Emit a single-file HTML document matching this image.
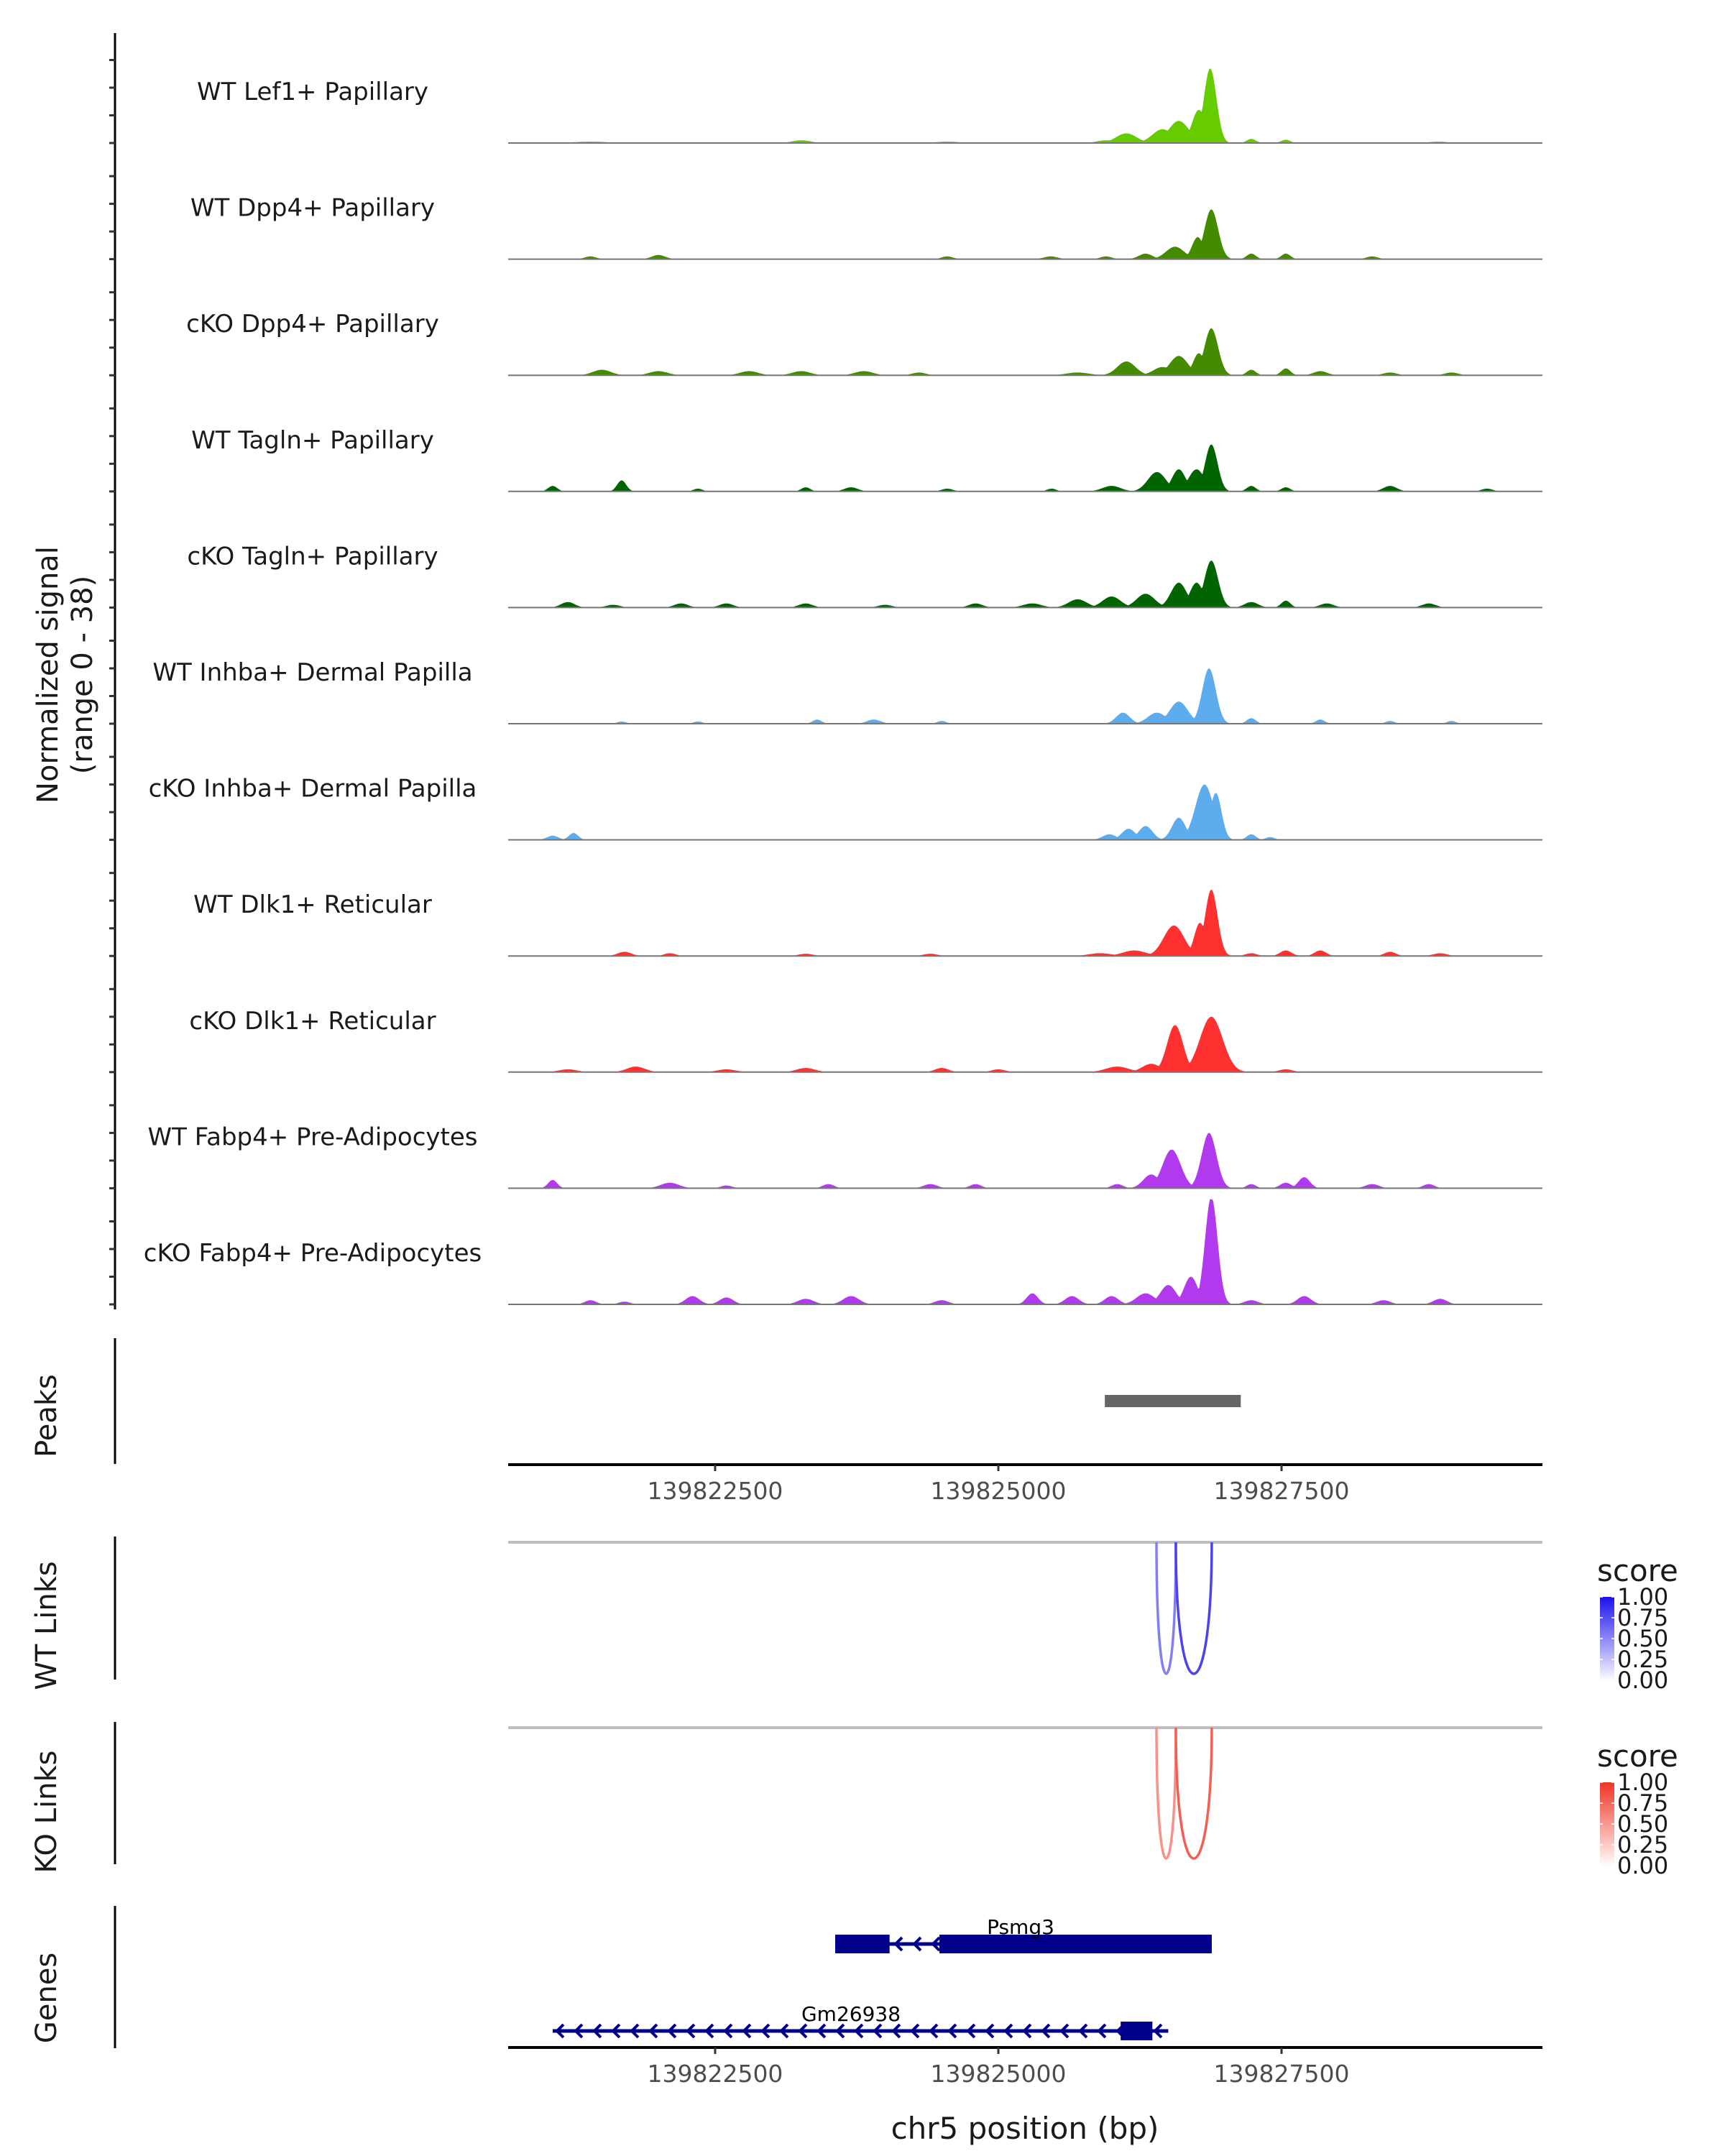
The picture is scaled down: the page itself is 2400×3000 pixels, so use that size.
<!DOCTYPE html>
<html><head><meta charset="utf-8"><style>
html,body{margin:0;padding:0;background:#fff;}
svg{display:block;font-family:"DejaVu Sans","Liberation Sans",sans-serif;}
</style></head><body>
<svg id="fig" width="2400" height="3000" viewBox="0 0 2400 3000">
<g id="tracks"></g>
<g id="peaks"></g>
<g id="links"></g>
<g id="genes"></g>
<g id="labels"></g>
</svg>
<script>
// ---------- data ----------
const xDomain = [139820673, 139829803];
const xTicks = [139822500, 139825000, 139827500];
const yMaxSignal = 38;
const trackNames = ["WT Lef1+ Papillary","WT Dpp4+ Papillary","cKO Dpp4+ Papillary","WT Tagln+ Papillary","cKO Tagln+ Papillary","WT Inhba+ Dermal Papilla","cKO Inhba+ Dermal Papilla","WT Dlk1+ Reticular","cKO Dlk1+ Reticular","WT Fabp4+ Pre-Adipocytes","cKO Fabp4+ Pre-Adipocytes"];
const trackColors = ["#66CC00","#458B00","#458B00","#006400","#006400","#5CACEE","#5CACEE","#FF3030","#FF3030","#B23AEE","#B23AEE"];
// each bump: [position bp, height (signal units), width bp]
const lef1WT = [[139826870,27,55],[139826770,12,60],[139826593,8,90],[139826450,5,90],[139826130,3.5,90],[139825950,1,80],[139823261,1,80],[139827233,1.5,40],[139827538,1.2,40],[139824549,0.5,100],[139821400,0.5,150],[139828883,0.5,80]];
const dpp4WT = [[139826880,18,60],[139826760,8,50],[139826560,4.5,80],[139826300,2,60],[139827233,2,40],[139827538,2,40],[139822000,1.5,60],[139821400,1,50],[139824549,1,50],[139825463,1,60],[139825950,1,50],[139828300,1,50]];
const dpp4KO = [[139826880,17,60],[139826770,8,50],[139826593,7,80],[139826450,3,80],[139826130,5,80],[139825700,1,100],[139821500,2,80],[139822000,1.5,80],[139822800,1.5,80],[139823260,1.5,80],[139823813,1.5,80],[139824300,1,60],[139827233,2,40],[139827538,2.5,40],[139827842,1.5,60],[139828458,1,60],[139829000,1,60]];
const taglnWT = [[139826880,17,55],[139826750,8,70],[139826593,8,60],[139826400,7,80],[139826000,2,80],[139821066,2,40],[139821675,4,40],[139822348,1,40],[139823300,1.5,40],[139823700,1.5,60],[139824549,1,50],[139825470,1,40],[139827233,2,40],[139827538,1.5,40],[139828458,2,60],[139829314,1,50]];
const taglnKO = [[139826880,17,60],[139826750,9,60],[139826593,9,70],[139826300,5,80],[139826000,4,80],[139825700,3,80],[139825300,1.5,80],[139821200,2,60],[139821600,1,60],[139822200,1.5,60],[139822600,1.5,60],[139823300,1.5,60],[139824000,1,60],[139824800,1.5,60],[139827233,2,60],[139827538,2.5,40],[139827900,1.5,60],[139828800,1.5,60]];
const inhbaWT = [[139826860,20,60],[139826593,8,80],[139826400,4,80],[139826100,4,60],[139821675,0.8,40],[139822348,0.8,40],[139823400,1.5,40],[139823900,1.5,60],[139824500,1,40],[139827233,2,40],[139827842,1.5,40],[139828458,1,40],[139829000,1,40]];
const inhbaKO = [[139826820,20,80],[139826920,17,50],[139826593,8,60],[139826300,5,60],[139826150,4,60],[139825980,2,60],[139821066,1.5,50],[139821250,2.5,40],[139827233,2,40],[139827400,1,40]];
const dlk1WT = [[139826880,24,55],[139826780,12,50],[139826550,11,90],[139826200,2,100],[139825900,1,100],[139821700,1.5,60],[139822100,1,50],[139823300,0.8,60],[139824400,0.8,60],[139827233,1,50],[139827538,2,50],[139827842,2,50],[139828458,1.5,50],[139828900,1,60]];
const dlk1KO = [[139826880,20,100],[139826560,17,70],[139826350,3,80],[139826050,2,100],[139821200,1,80],[139821800,2,80],[139822600,1,80],[139823300,1.5,80],[139824500,1.5,60],[139827538,1,60],[139825000,1,60]];
const fabp4WT = [[139826860,20,65],[139826530,14,80],[139826350,5,70],[139826050,1.5,50],[139821066,3,40],[139822100,2,80],[139822600,1,50],[139823500,1.5,50],[139824400,1.5,60],[139824800,1.5,50],[139827233,1.5,40],[139827538,2,50],[139827700,4,50],[139828300,1.5,60],[139828800,1.5,50]];
const fabp4KO = [[139826880,39,55],[139826700,10,60],[139826500,7,70],[139826300,4,80],[139826000,3,60],[139825650,3,60],[139821400,1.5,50],[139821700,1,50],[139822300,3,60],[139822600,2.5,60],[139823300,2,70],[139823700,3,70],[139824500,1.5,60],[139825300,4,50],[139827233,1.5,60],[139827700,3,60],[139828400,1.5,60],[139828900,2,60]];
const trackSignals = [lef1WT,dpp4WT,dpp4KO,taglnWT,taglnKO,inhbaWT,inhbaKO,dlk1WT,dlk1KO,fabp4WT,fabp4KO];
const peakStarts = [139825940];
const peakEnds = [139827140];
const wtLinkStarts = [139826396, 139826567];
const wtLinkEnds = [139826567, 139826884];
const wtLinkScores = [0.55, 0.8];
const koLinkStarts = [139826396, 139826567];
const koLinkEnds = [139826567, 139826884];
const koLinkScores = [0.55, 0.8];
const legendTicks = ["1.00","0.75","0.50","0.25","0.00"];
const geneNames = ["Psmg3","Gm26938"];
const geneStarts = [139823560, 139821066];
const geneEnds = [139826884, 139826500];
const exonStarts = [[139823560,139824480],[139826080]];
const exonEnds = [[139824040,139826884],[139826360]];

// ---------- helpers ----------
const NS="http://www.w3.org/2000/svg";
function mk(tag, attrs, parent){const e=document.createElementNS(NS,tag);for(const k in attrs)e.setAttribute(k,attrs[k]);parent.appendChild(e);return e;}
const PX0=707, PX1=2146;
const xs = v => PX0 + (v - xDomain[0])/(xDomain[1]-xDomain[0])*(PX1-PX0);
const TRACK0=199, TRACKSTEP=161.6, UNIT=3.85;

const gT=document.getElementById('tracks');
let e=mk('line',{x1:160,y1:46,x2:160,y2:1822,stroke:'#000','stroke-width':3},gT);


trackNames.forEach((name,i)=>{
  const base=TRACK0+i*TRACKSTEP;
  const g=mk('g',{},gT);
  
  
  for(let k=0;k<4;k++){
    const ty=base-k*10*UNIT;
    const t=mk('line',{x1:152,y1:ty,x2:160,y2:ty,stroke:'#333','stroke-width':3},g);
    
    
  }
  const lab=mk('text',{x:435,y:base-60,'text-anchor':'middle','font-size':34,fill:'#1a1a1a'},g);
  lab.textContent=name;
  
  
  const bumps=trackSignals[i];
  let d='M'+PX0+','+base;
  for(let px=PX0;px<=PX1;px+=1.5){
    const bp=xDomain[0]+(px-PX0)/(PX1-PX0)*(xDomain[1]-xDomain[0]);
    let v=0;
    bumps.forEach(b=>{const z=(bp-b[0])/b[2];const y=b[1]*Math.exp(-0.5*z*z);if(y>v)v=y;});
    if(v<0.25)v=0;
    v=Math.min(v,yMaxSignal);
    d+=' L'+px.toFixed(1)+','+(base-v*UNIT).toFixed(1);
  }
  d+=' L'+PX1+','+base+' Z';
  const a=mk('path',{d:d,fill:trackColors[i],stroke:'none'},g);
  
  
  const bl=mk('line',{x1:PX0,y1:base,x2:PX1,y2:base,stroke:'#777','stroke-width':2},g);
  
  
});

// peaks
const gP=document.getElementById('peaks');
e=mk('line',{x1:160,y1:1862,x2:160,y2:2037,stroke:'#000','stroke-width':3},gP);


peakStarts.forEach((s,i)=>{
  const r=mk('rect',{x:xs(s),y:1941,width:xs(peakEnds[i])-xs(s),height:17,fill:'#666'},gP);
  
  
});
function xAxis(parent,y,name){
  const g=mk('g',{},parent);
  
  
  mk('line',{x1:PX0,y1:y,x2:PX1,y2:y,stroke:'#000','stroke-width':4},g);
  xTicks.forEach(t=>{
    mk('line',{x1:xs(t),y1:y,x2:xs(t),y2:y+9,stroke:'#333','stroke-width':3},g);
    const tx=mk('text',{x:xs(t),y:y+48,'text-anchor':'middle','font-size':33,fill:'#4d4d4d'},g);
    tx.textContent=t;
    
    
  });
}
xAxis(gP,2038,'x-axis-top');

// links
const gL=document.getElementById('links');
function linkPanel(top,axTop,axBot,starts,ends,scores,col,name,legY){
  const g=mk('g',{},gL);
  
  
  mk('line',{x1:160,y1:axTop,x2:160,y2:axBot,stroke:'#000','stroke-width':3},g);
  mk('line',{x1:PX0,y1:top,x2:PX1,y2:top,stroke:'#bebebe','stroke-width':4},g);
  const bottom=axBot-8;
  starts.forEach((s,i)=>{
    const x1=xs(s),x2=xs(ends[i]);const cy=top+(bottom-top)*4/3;
    const p=mk('path',{d:`M${x1},${top} C${x1},${cy} ${x2},${cy} ${x2},${top}`,fill:'none',stroke:col(scores[i]),'stroke-width':3.5},g);
    
    
  });
  const lt=mk('text',{x:2222,y:legY,'font-size':42,fill:'#1a1a1a'},g);
  lt.textContent='score';
  
  
  const by0=legY+22,bh=116;
  for(let k=0;k<40;k++){
    const f=1-k/40;
    mk('rect',{x:2226,y:by0+k*bh/40,width:20,height:bh/40+0.6,fill:col(f)},g);
  }
  legendTicks.forEach((t,k)=>{
    const yy=by0+k*bh/4;
    const tx=mk('text',{x:2250,y:yy+11,'font-size':32,fill:'#1a1a1a'},g);
    tx.textContent=t;
    
    
    mk('line',{x1:2226,y1:yy,x2:2230,y2:yy,stroke:'#fff','stroke-width':1.5},g);
    mk('line',{x1:2242,y1:yy,x2:2246,y2:yy,stroke:'#fff','stroke-width':1.5},g);
  });
}
const blue=f=>`rgb(${Math.round(255-f*225)},${Math.round(255-f*235)},${Math.round(255-f*20)})`;
const red=f=>`rgb(${Math.round(255-f*15)},${Math.round(255-f*200)},${Math.round(255-f*215)})`;
linkPanel(2146,2138,2337,wtLinkStarts,wtLinkEnds,wtLinkScores,blue,'wt-links-panel',2200);
linkPanel(2404,2396,2594,koLinkStarts,koLinkEnds,koLinkScores,red,'ko-links-panel',2458);

// genes
const gG=document.getElementById('genes');
e=mk('line',{x1:160,y1:2652,x2:160,y2:2850,stroke:'#000','stroke-width':3},gG);


const rowY=[2705,2826];
geneNames.forEach((n,i)=>{
  const g=mk('g',{},gG);
  
  
  const y=rowY[i];const x1=xs(geneStarts[i]),x2=xs(geneEnds[i]);
  mk('line',{x1:x1,y1:y,x2:x2,y2:y,stroke:'#00008B','stroke-width':5},g);
  for(let ax=x1+6;ax<x2;ax+=26){
    mk('path',{d:`M${ax+9},${y-9} L${ax},${y} L${ax+9},${y+9}`,fill:'none',stroke:'#00008B','stroke-width':4},g);
  }
  exonStarts[i].forEach((s,k)=>{
    const r=mk('rect',{x:xs(s),y:y-13,width:xs(exonEnds[i][k])-xs(s),height:26,fill:'#00008B'},g);
    
    
  });
  const lab=mk('text',{x:i===0?1420:1184,y:y-14,'text-anchor':'middle','font-size':28,fill:'#000'},g);
  lab.textContent=n;
  
  
});
xAxis(gG,2849,'x-axis-bottom');

// titles
const gLab=document.getElementById('labels');
function rot(txt,x,y,name){
  const t=mk('text',{x:x,y:y,transform:`rotate(-90 ${x} ${y})`,'text-anchor':'middle','font-size':40,fill:'#1a1a1a'},gLab);
  t.textContent=txt;
  
  
}
rot('Normalized signal',80,939,'y-axis-title');
rot('(range 0 - 38)',128,939,'y-axis-range');
rot('Peaks',78,1970,'peaks-title');
rot('WT Links',78,2262,'wt-links-title');
rot('KO Links',78,2521,'ko-links-title');
rot('Genes',78,2780,'genes-title');
const xt=mk('text',{x:1426,y:2976,'text-anchor':'middle','font-size':42,fill:'#1a1a1a'},gLab);
xt.textContent='chr5 position (bp)';


</script>
</body></html>
